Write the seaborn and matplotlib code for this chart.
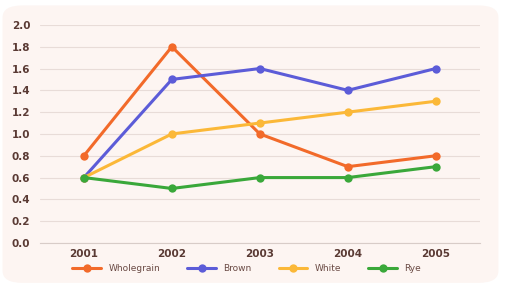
import pandas as pd
import matplotlib.pyplot as plt
import seaborn as sns
from matplotlib.patches import FancyBboxPatch

years = ["2001", "2002", "2003", "2004", "2005"]
wholegrain = [0.8, 1.8, 1.0, 0.7, 0.8]
brown = [0.6, 1.5, 1.6, 1.4, 1.6]
white = [0.6, 1.0, 1.1, 1.2, 1.3]
rye = [0.6, 0.5, 0.6, 0.6, 0.7]

series = {"Wholegrain": wholegrain, "Brown": brown, "White": white, "Rye": rye}
colors = {"Wholegrain": "#f26a2a", "Brown": "#5c5cd8", "White": "#fbb838", "Rye": "#3aa83a"}

rows = []
for name, vals in series.items():
    for i, v in enumerate(vals):
        rows.append({"Year": i, "Value": v, "Bread": name})
df = pd.DataFrame(rows)

sns.set_style("white")
plt.rcParams["font.family"] = ["DejaVu Sans"]

fig = plt.figure(figsize=(5.05, 3.0), dpi=100)
fig.patch.set_facecolor("white")

# rounded card behind the chart
bg = fig.add_axes([0, 0, 1, 1], zorder=-1)
bg.axis("off")
bg.add_patch(FancyBboxPatch((0.005, 0.057), 0.982, 0.925, boxstyle="round,pad=0,rounding_size=0.04",
                            transform=bg.transAxes, facecolor="#fdf5f2", edgecolor="none"))

ax = fig.add_axes([0.079, 0.19, 0.871, 0.727])
ax.set_facecolor("none")

sns.lineplot(data=df, x="Year", y="Value", hue="Bread", palette=colors, marker="o",
             markersize=6, markeredgewidth=0, linewidth=2.2, ax=ax)

ax.set_xlim(-0.5, 4.5)
ax.set_ylim(0, 2.0)
ax.set_yticks([i / 10 for i in range(0, 21, 2)])
ax.set_yticklabels([f"{i / 10:.1f}" for i in range(0, 21, 2)])
ax.set_xticks(range(len(years)))
ax.set_xticklabels(years)
ax.grid(axis="y", color="#e8dcd8", linewidth=0.8)
ax.set_axisbelow(True)
for s in ["top", "right", "left"]:
    ax.spines[s].set_visible(False)
ax.spines["bottom"].set_color("#d8ccc8")
ax.tick_params(axis="both", length=0, labelsize=7.5, colors="#5a3a34")
ax.tick_params(axis="x", pad=4)
ax.tick_params(axis="y", pad=7)
for lbl in ax.get_xticklabels() + ax.get_yticklabels():
    lbl.set_fontweight("bold")
ax.set_xlabel("")
ax.set_ylabel("")

ax.legend(loc="upper center", bbox_to_anchor=(0.47, -0.06), ncol=4, frameon=False,
          fontsize=6.5, handlelength=3.2, columnspacing=3.0, labelcolor="#6a4a44")

fig.savefig("out.png", dpi=100)
